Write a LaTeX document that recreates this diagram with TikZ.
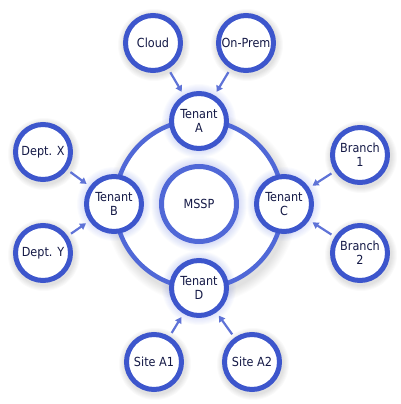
\documentclass[tikz,border=0pt]{standalone}
\usepackage{fontspec}
\setmainfont{DejaVu Sans Condensed}
\usetikzlibrary{arrows.meta}
\definecolor{ring}{RGB}{61,86,204}
\definecolor{ringlt}{RGB}{80,104,215}
\definecolor{glowc}{RGB}{110,130,230}
\definecolor{arr}{RGB}{95,115,215}
\definecolor{txt}{RGB}{20,25,70}
\newcommand\mkglow[6]{\foreach \k in {1,...,#5}{\fill[#4, opacity=#6] (#1,#2) circle ({#3+\k});}}
\begin{document}
\begin{tikzpicture}[x=1pt,y=-1pt,
  bub/.style={circle, draw=ring, line width=5pt, fill=white, minimum size=55pt, inner sep=0pt,
    font=\fontsize{12.5}{14}\selectfont, text=txt, align=center},
  link/.style={draw=arr, line width=2.2pt, -{Triangle[length=6pt,width=7pt]}, shorten <=4pt, shorten >=4pt}]
\useasboundingbox (0,0) rectangle (400,404);
% soft shadows
\mkglow{154}{45}{30}{black}{6}{0.018}
\mkglow{247}{45}{30}{black}{6}{0.018}
\mkglow{44}{154}{30}{black}{6}{0.018}
\mkglow{44}{255}{30}{black}{6}{0.018}
\mkglow{361}{157}{30}{black}{6}{0.018}
\mkglow{361}{255}{30}{black}{6}{0.018}
\mkglow{155}{364}{30}{black}{6}{0.018}
\mkglow{253}{364}{30}{black}{6}{0.018}
\mkglow{201}{208}{86}{black}{10}{0.012}
% big ring
\draw[ringlt, line width=4.5pt, fill=white] (199,204) circle (84);
% inner blue glows
\mkglow{199}{204}{40}{glowc}{8}{0.03}
\mkglow{199}{121}{30}{glowc}{7}{0.03}
\mkglow{114}{204}{30}{glowc}{7}{0.03}
\mkglow{284}{204}{30}{glowc}{7}{0.03}
\mkglow{199}{288}{30}{glowc}{7}{0.03}
% nodes
\node[bub, draw=ringlt, minimum size=75pt] (mssp) at (199,204) {MSSP};
\node[bub] (ta) at (199,121) {Tenant\\A};
\node[bub] (tb) at (114,204) {Tenant\\B};
\node[bub] (tc) at (284,204) {Tenant\\C};
\node[bub] (td) at (199,288) {Tenant\\D};
\node[bub] (cloud) at (153,43) {Cloud};
\node[bub] (onprem) at (246,43) {On-Prem};
\node[bub] (dx) at (43,152) {Dept. X};
\node[bub] (dy) at (43,253) {Dept. Y};
\node[bub] (b1) at (360,155) {Branch\\1};
\node[bub] (b2) at (360,253) {Branch\\2};
\node[bub] (s1) at (154,362) {Site A1};
\node[bub] (s2) at (252,362) {Site A2};
% connectors
\draw[link] (cloud) -- (ta);
\draw[link] (onprem) -- (ta);
\draw[link] (dx) -- (tb);
\draw[link] (dy) -- (tb);
\draw[link] (b1) -- (tc);
\draw[link] (b2) -- (tc);
\draw[link] (s1) -- (td);
\draw[link] (s2) -- (td);
\end{tikzpicture}
\end{document}
